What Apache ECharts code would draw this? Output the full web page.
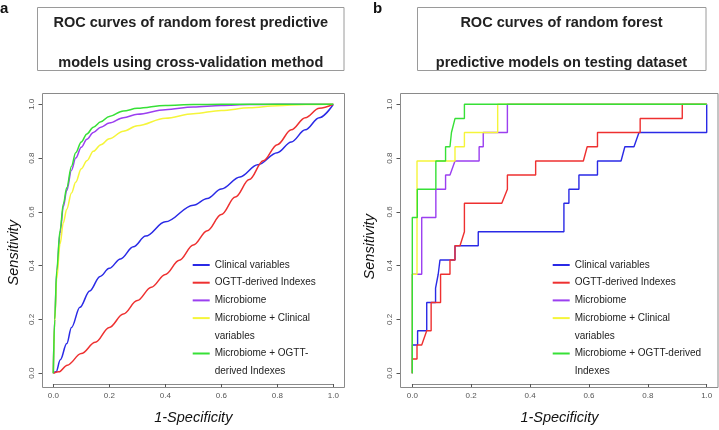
<!DOCTYPE html>
<html>
<head>
<meta charset="utf-8">
<script src="https://cdn.jsdelivr.net/npm/echarts@6/dist/echarts.min.js"></script>
<style>
html,body{margin:0;padding:0;background:#fff;}
#chart{width:719px;height:430px;}
</style>
</head>
<body>
<div id="chart"></div>
<script>
// ---------- DATA ----------
const seriesNames = ['Clinical variables', 'OGTT-derived Indexes', 'Microbiome', 'Microbiome + Clinical', 'Microbiome + OGTT-'];
const seriesNamesB = ['Clinical variables', 'OGTT-derived Indexes', 'Microbiome', 'Microbiome + Clinical', 'Microbiome + OGTT-derived'];
const legendA = ['Clinical variables', 'OGTT-derived Indexes', 'Microbiome', 'Microbiome + Clinical', 'variables', 'Microbiome + OGTT-', 'derived Indexes'];
const legendB = ['Clinical variables', 'OGTT-derived Indexes', 'Microbiome', 'Microbiome + Clinical', 'variables', 'Microbiome + OGTT-derived', 'Indexes'];
const continuationNames = ['variables', 'derived Indexes', 'Indexes'];
const axisMin = 0, axisMax = 1, axisStep = 0.2;
const titleA = 'ROC curves of random forest predictive\nmodels using cross-validation method';
const titleB = 'ROC curves of random forest\npredictive models on testing dataset';
const xName = '1-Specificity';
const yName = 'Sensitivity';

// Panel a: cross-validation ROC curves (1-specificity, sensitivity)
const cvClinicalX = [0, 0.01, 0.025, 0.048, 0.065, 0.095, 0.13, 0.167, 0.2, 0.24, 0.286, 0.33, 0.4, 0.5, 0.55, 0.6, 0.667, 0.73, 0.8, 0.85, 0.9, 0.95, 1];
const cvClinicalY = [0, 0.005, 0.05, 0.11, 0.17, 0.245, 0.306, 0.36, 0.39, 0.425, 0.47, 0.51, 0.563, 0.625, 0.65, 0.685, 0.73, 0.775, 0.82, 0.86, 0.905, 0.95, 1];
const cvOgttX = [0, 0.02, 0.05, 0.1, 0.15, 0.2, 0.25, 0.3, 0.35, 0.4, 0.45, 0.5, 0.55, 0.6, 0.65, 0.7, 0.75, 0.8, 0.85, 0.9, 0.95, 1];
const cvOgttY = [0, 0.005, 0.03, 0.073, 0.115, 0.17, 0.22, 0.27, 0.32, 0.367, 0.42, 0.477, 0.53, 0.59, 0.655, 0.72, 0.79, 0.85, 0.905, 0.95, 0.985, 1];
const cvMicroX = [0, 0.005, 0.012, 0.024, 0.036, 0.048, 0.065, 0.08, 0.1, 0.12, 0.143, 0.17, 0.2, 0.25, 0.3, 0.4, 0.5, 0.6, 0.7, 0.8, 1];
const cvMicroY = [0, 0.2, 0.37, 0.52, 0.62, 0.68, 0.755, 0.8, 0.84, 0.87, 0.895, 0.915, 0.93, 0.95, 0.963, 0.98, 0.99, 0.996, 0.999, 1, 1];
const cvMicroClinX = [0, 0.005, 0.012, 0.024, 0.036, 0.048, 0.065, 0.08, 0.1, 0.12, 0.143, 0.17, 0.2, 0.25, 0.3, 0.4, 0.5, 0.6, 0.7, 0.8, 0.9, 1];
const cvMicroClinY = [0, 0.19, 0.35, 0.48, 0.56, 0.61, 0.67, 0.71, 0.76, 0.79, 0.825, 0.85, 0.872, 0.9, 0.92, 0.948, 0.965, 0.977, 0.987, 0.995, 0.999, 1];
const cvMicroOgttX = [0, 0.005, 0.012, 0.024, 0.036, 0.048, 0.065, 0.08, 0.1, 0.12, 0.143, 0.17, 0.2, 0.25, 0.3, 0.4, 0.5, 0.6, 0.8, 1];
const cvMicroOgttY = [0, 0.2, 0.38, 0.53, 0.63, 0.69, 0.77, 0.82, 0.86, 0.89, 0.915, 0.935, 0.955, 0.975, 0.985, 0.996, 0.999, 1, 1, 1];

// Panel b: testing dataset ROC paths
const testClinicalX = [0, 0, 0.018, 0.018, 0.049, 0.049, 0.079, 0.079, 0.088, 0.094, 0.094, 0.145, 0.145, 0.224, 0.224, 0.515, 0.515, 0.532, 0.532, 0.566, 0.566, 0.629, 0.629, 0.709, 0.722, 0.753, 0.77, 1, 1];
const testClinicalY = [0, 0.105, 0.105, 0.158, 0.158, 0.263, 0.263, 0.316, 0.368, 0.368, 0.421, 0.421, 0.474, 0.474, 0.526, 0.526, 0.632, 0.632, 0.684, 0.684, 0.737, 0.737, 0.789, 0.789, 0.842, 0.842, 0.895, 0.895, 1];
const testOgttX = [0, 0, 0.016, 0.016, 0.032, 0.049, 0.064, 0.064, 0.096, 0.096, 0.128, 0.128, 0.145, 0.145, 0.162, 0.177, 0.177, 0.304, 0.323, 0.323, 0.419, 0.419, 0.581, 0.594, 0.629, 0.629, 0.774, 0.774, 0.917, 0.917, 1];
const testOgttY = [0, 0.053, 0.053, 0.105, 0.105, 0.158, 0.158, 0.263, 0.263, 0.368, 0.368, 0.421, 0.421, 0.474, 0.474, 0.526, 0.632, 0.632, 0.684, 0.737, 0.737, 0.789, 0.789, 0.842, 0.842, 0.895, 0.895, 0.947, 0.947, 1, 1];
const testMicroX = [0, 0, 0.032, 0.032, 0.08, 0.08, 0.113, 0.113, 0.128, 0.145, 0.227, 0.227, 0.241, 0.241, 0.323, 0.323, 1];
const testMicroY = [0, 0.368, 0.368, 0.579, 0.579, 0.684, 0.684, 0.737, 0.737, 0.789, 0.789, 0.842, 0.842, 0.895, 0.895, 1, 1];
const testMicroClinX = [0, 0, 0.016, 0.016, 0.145, 0.145, 0.177, 0.177, 0.29, 0.29, 1];
const testMicroClinY = [0, 0.368, 0.368, 0.789, 0.789, 0.842, 0.842, 0.895, 0.895, 1, 1];
const testMicroOgttX = [0, 0, 0.017, 0.017, 0.08, 0.08, 0.113, 0.113, 0.128, 0.133, 0.145, 0.177, 0.177, 1];
const testMicroOgttY = [0, 0.579, 0.579, 0.684, 0.684, 0.789, 0.789, 0.842, 0.842, 0.895, 0.947, 0.947, 1, 1];

// ---------- STYLE ----------
const colors = ['#2a2ae6', '#ee3030', '#9b3ff0', '#f5f53a', '#36e036'];
const FONT = 'Liberation Sans, Arial, sans-serif';
const BOX = '#8a8a8a';

const zip = (xs, ys) => xs.map((x, i) => [x, ys[i]]);
const cvSets = [[cvClinicalX, cvClinicalY], [cvOgttX, cvOgttY], [cvMicroX, cvMicroY], [cvMicroClinX, cvMicroClinY], [cvMicroOgttX, cvMicroOgttY]];
const testSets = [[testClinicalX, testClinicalY], [testOgttX, testOgttY], [testMicroX, testMicroY], [testMicroClinX, testMicroClinY], [testMicroOgttX, testMicroOgttY]];

const series = [];
cvSets.forEach((s, i) => series.push({
  type: 'line', name: seriesNames[i], xAxisIndex: 0, yAxisIndex: 0,
  data: zip(s[0], s[1]), symbol: 'none', smooth: 0.35, smoothMonotone: 'x', clip: false,
  lineStyle: { color: colors[i], width: 1.5 }, itemStyle: { color: colors[i] }, z: 2 + i, silent: true
}));
testSets.forEach((s, i) => series.push({
  type: 'line', name: seriesNamesB[i], xAxisIndex: 1, yAxisIndex: 1,
  data: zip(s[0], s[1]), symbol: 'none', clip: false,
  lineStyle: { color: colors[i], width: 1.4 }, itemStyle: { color: colors[i] }, z: 2 + i, silent: true
}));
continuationNames.forEach(n => series.push({
  type: 'line', name: n, xAxisIndex: 0, yAxisIndex: 0, data: [], symbol: 'none',
  lineStyle: { color: 'rgba(0,0,0,0)', width: 0 }, itemStyle: { color: 'rgba(0,0,0,0)' }
}));

function tickStyle() { return { show: true, inside: false, length: 4, lineStyle: { color: '#555', width: 1 } }; }
function makeX(idx, off) {
  return {
    type: 'value', gridIndex: idx, min: axisMin, max: axisMax, interval: axisStep, offset: off,
    axisLine: { show: true, onZero: false, lineStyle: { color: BOX, width: 1 } }, splitLine: { show: false },
    axisTick: tickStyle(),
    axisLabel: { formatter: v => v.toFixed(1), fontSize: 8, color: '#555', margin: 8, fontFamily: FONT, showMinLabel: true, showMaxLabel: true },
    name: xName, nameLocation: 'middle', nameGap: 26,
    nameTextStyle: { fontSize: 14.5, fontStyle: 'italic', color: '#111', fontFamily: FONT }
  };
}
function makeY(idx, off, gap, shift) {
  return {
    type: 'value', gridIndex: idx, min: axisMin, max: axisMax, interval: axisStep, offset: off,
    axisLine: { show: true, onZero: false, lineStyle: { color: BOX, width: 1 } }, splitLine: { show: false },
    axisTick: tickStyle(),
    axisLabel: { formatter: v => v.toFixed(1), fontSize: 8, color: '#555', margin: 7, rotate: 90, fontFamily: FONT, showMinLabel: true, showMaxLabel: true },
    name: yName, nameLocation: 'middle', nameGap: gap,
    nameTextStyle: { fontSize: 14.5, fontStyle: 'italic', color: '#111', fontFamily: FONT, padding: [0, shift, 0, 0] }
  };
}
function makeLegend(data, left) {
  return {
    orient: 'vertical', left: left, top: 259, data: data,
    itemWidth: 17, itemHeight: 12, itemGap: 5.7, padding: 0,
    selectedMode: false,
    itemStyle: { opacity: 0 },
    lineStyle: { width: 2 },
    textStyle: { fontSize: 10, color: '#222', fontFamily: FONT, lineHeight: 12 }
  };
}

const chart = echarts.init(document.getElementById('chart'), null, { renderer: 'canvas' });
chart.setOption({
  animation: false,
  backgroundColor: '#fff',
  title: [
    { text: titleA, left: 190.8, top: 2.7, textAlign: 'center', padding: 0,
      textStyle: { fontSize: 14.5, fontWeight: 'bold', lineHeight: 40, color: '#222', fontFamily: FONT } },
    { text: titleB, left: 561.5, top: 2.7, textAlign: 'center', padding: 0,
      textStyle: { fontSize: 14.5, fontWeight: 'bold', lineHeight: 40, color: '#222', fontFamily: FONT } },
    { text: 'a', left: 0, top: 1, padding: 0, textStyle: { fontSize: 15, fontWeight: 'bold', color: '#111', fontFamily: FONT } },
    { text: 'b', left: 373, top: 1, padding: 0, textStyle: { fontSize: 15, fontWeight: 'bold', color: '#111', fontFamily: FONT } }
  ],
  graphic: [
    { type: 'rect', shape: { x: 37.5, y: 7.5, width: 306.5, height: 63 }, style: { fill: 'none', stroke: '#9a9a9a', lineWidth: 1 }, silent: true },
    { type: 'rect', shape: { x: 417.5, y: 7.5, width: 288.5, height: 63 }, style: { fill: 'none', stroke: '#9a9a9a', lineWidth: 1 }, silent: true },
    { type: 'rect', shape: { x: 42.5, y: 93.5, width: 302, height: 294 }, style: { fill: 'none', stroke: BOX, lineWidth: 1 }, silent: true, z: 1 },
    { type: 'rect', shape: { x: 400.5, y: 93.5, width: 317.5, height: 294 }, style: { fill: 'none', stroke: BOX, lineWidth: 1 }, silent: true, z: 1 }
  ],
  grid: [
    { left: 53.3, top: 104.3, width: 280, height: 272.4, containLabel: false },
    { left: 412.3, top: 104.3, width: 294.4, height: 272.4, containLabel: false }
  ],
  xAxis: [makeX(0, 10.8), makeX(1, 10.8)],
  yAxis: [makeY(0, 10.8, 21, 28), makeY(1, 11.8, 23, 16)],
  legend: [makeLegend(legendA, 191.7), makeLegend(legendB, 551.7)],
  series: series
});
</script>
</body>
</html>
